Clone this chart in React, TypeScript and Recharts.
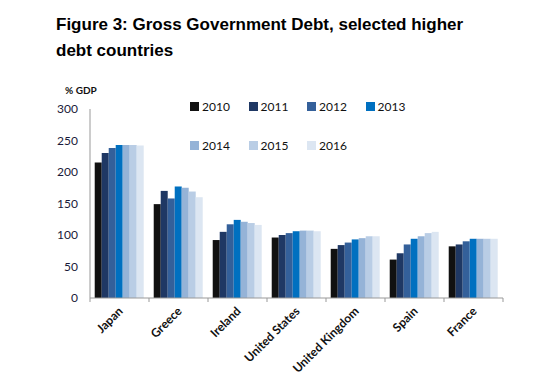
import React from 'react';
import { BarChart, Bar, XAxis, YAxis } from 'recharts';

const countries = ['Japan', 'Greece', 'Ireland', 'United States', 'United Kingdom', 'Spain', 'France'];
const years = ['2010', '2011', '2012', '2013', '2014', '2015', '2016'];
const yearColors = ['#111111', '#1F3864', '#34609A', '#0070C0', '#95B3D7', '#B9CDE5', '#DCE6F2'];

const debt2010 = [215, 149, 92, 96, 78, 61, 82];
const debt2011 = [230, 170, 105, 100, 84, 71, 85];
const debt2012 = [238, 158, 117, 103, 88, 85, 90];
const debt2013 = [243, 177, 124, 106, 93, 94, 94];
const debt2014 = [243, 175, 121, 107, 95, 98, 94];
const debt2015 = [243, 169, 119, 107, 98, 103, 94];
const debt2016 = [242, 160, 116, 106, 98, 105, 94];

const yTicks = [0, 50, 100, 150, 200, 250, 300];

const series = [debt2010, debt2011, debt2012, debt2013, debt2014, debt2015, debt2016];
const data = countries.map((name, i) => {
  const row: Record<string, string | number> = { name };
  years.forEach((y, j) => {
    row[y] = series[j][i];
  });
  return row;
});

const W = 550;
const H = 378;
const M = { top: 109, right: 47, bottom: 0, left: 30 };
const Y_AXIS_W = 60;
const X_AXIS_H = 80;
const PLOT_W = W - M.left - Y_AXIS_W - M.right;
const BAND = PLOT_W / countries.length;

const CountryTick = (props: any) => {
  const { x, y, payload, index } = props;
  const left = x - BAND / 2;
  return (
    <g>
      <line x1={left} y1={y - 8} x2={left} y2={y - 4} stroke="#999" />
      {index === countries.length - 1 && (
        <line x1={left + BAND} y1={y - 8} x2={left + BAND} y2={y - 4} stroke="#999" />
      )}
      <text
        x={x + 4}
        y={y + 6}
        transform={`rotate(-45, ${x + 4}, ${y + 6})`}
        textAnchor="end"
        fontFamily="Lato, sans-serif"
        fontWeight="bold"
        fontSize={12}
        fill="#111"
      >
        {payload.value}
      </text>
    </g>
  );
};

const YearLegend = () => (
  <div style={{ position: 'absolute', left: 190, top: 99, width: 240, height: 60 }}>
    {years.map((y, i) => (
      <div
        key={y}
        style={{
          position: 'absolute',
          left: (i % 4) * 58.5,
          top: Math.floor(i / 4) * 39,
          display: 'flex',
          alignItems: 'center',
          fontFamily: 'Lato, sans-serif',
          fontSize: 12,
          color: '#111',
        }}
      >
        <span style={{ width: 9, height: 9, background: yearColors[i], marginRight: 3, display: 'inline-block' }} />
        {y}
      </div>
    ))}
  </div>
);

export default function App() {
  return (
    <div style={{ position: 'absolute', left: 0, top: 0, width: W, height: H, background: '#fff' }}>
      <div
        style={{
          position: 'absolute',
          left: 56,
          top: 12,
          fontFamily: '"Liberation Sans", Arial, sans-serif',
          fontWeight: 'bold',
          fontSize: 17,
          lineHeight: '26px',
          color: '#000',
          whiteSpace: 'nowrap',
        }}
      >
        Figure 3: Gross Government Debt, selected higher
        <br />
        debt countries
      </div>
      <div
        style={{
          position: 'absolute',
          left: 65,
          top: 84,
          fontFamily: 'Lato, sans-serif',
          fontWeight: 'bold',
          fontSize: 10,
          color: '#111',
        }}
      >
        % GDP
      </div>
      <BarChart
        width={W}
        height={H}
        data={data}
        margin={M}
        barCategoryGap="8%"
        barGap={0}
        style={{ position: 'absolute', left: 0, top: 0 }}
      >
        <XAxis
          dataKey="name"
          height={X_AXIS_H}
          axisLine={{ stroke: '#999' }}
          tickLine={false}
          interval={0}
          tick={<CountryTick />}
        />
        <YAxis
          width={Y_AXIS_W}
          domain={[0, 300]}
          ticks={yTicks}
          axisLine={{ stroke: '#999' }}
          tickLine={false}
          tick={{ fontFamily: 'Lato, sans-serif', fontSize: 12, fill: '#1a1a3a' }}
          tickMargin={6}
        />
        {years.map((y, i) => (
          <Bar key={y} dataKey={y} fill={yearColors[i]} isAnimationActive={false} />
        ))}
      </BarChart>
      <YearLegend />
    </div>
  );
}
